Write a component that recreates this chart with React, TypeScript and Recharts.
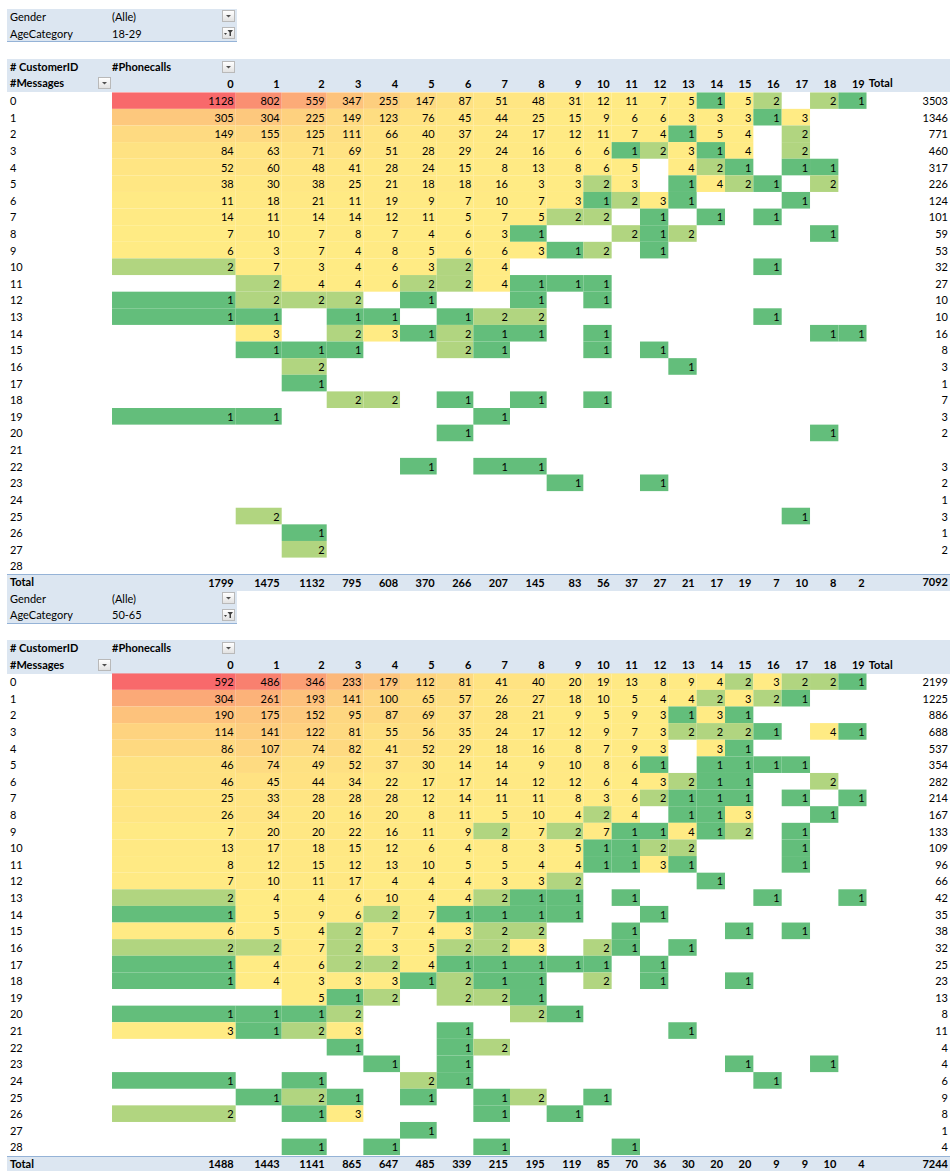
import React from "react";
import { ScatterChart, Scatter, XAxis, YAxis } from "recharts";

type Count = number | null;
const _ = null;

const phonecalls = [0, 1, 2, 3, 4, 5, 6, 7, 8, 9, 10, 11, 12, 13, 14, 15, 16, 17, 18, 19];
const messages = [0, 1, 2, 3, 4, 5, 6, 7, 8, 9, 10, 11, 12, 13, 14, 15, 16, 17, 18, 19, 20, 21, 22, 23, 24, 25, 26, 27, 28];

// AgeCategory 18-29: customers per #Messages (rows) x #Phonecalls (columns)
const youngCounts: Count[][] = [
  [1128, 802, 559, 347, 255, 147, 87, 51, 48, 31, 12, 11, 7, 5, 1, 5, 2, _, 2, 1],
  [305, 304, 225, 149, 123, 76, 45, 44, 25, 15, 9, 6, 6, 3, 3, 3, 1, 3, _, _],
  [149, 155, 125, 111, 66, 40, 37, 24, 17, 12, 11, 7, 4, 1, 5, 4, _, 2, _, _],
  [84, 63, 71, 69, 51, 28, 29, 24, 16, 6, 6, 1, 2, 3, 1, 4, _, 2, _, _],
  [52, 60, 48, 41, 28, 24, 15, 8, 13, 8, 6, 5, _, 4, 2, 1, _, 1, 1, _],
  [38, 30, 38, 25, 21, 18, 18, 16, 3, 3, 2, 3, _, 1, 4, 2, 1, _, 2, _],
  [11, 18, 21, 11, 19, 9, 7, 10, 7, 3, 1, 2, 3, 1, _, _, _, 1, _, _],
  [14, 11, 14, 14, 12, 11, 5, 7, 5, 2, 2, _, 1, _, 1, _, 1, _, _, _],
  [7, 10, 7, 8, 7, 4, 6, 3, 1, _, _, 2, 1, 2, _, _, _, _, 1, _],
  [6, 3, 7, 4, 8, 5, 6, 6, 3, 1, 2, _, 1, _, _, _, _, _, _, _],
  [2, 7, 3, 4, 6, 3, 2, 4, _, _, _, _, _, _, _, _, 1, _, _, _],
  [_, 2, 4, 4, 6, 2, 2, 4, 1, 1, 1, _, _, _, _, _, _, _, _, _],
  [1, 2, 2, 2, _, 1, _, _, 1, _, 1, _, _, _, _, _, _, _, _, _],
  [1, 1, _, 1, 1, _, 1, 2, 2, _, _, _, _, _, _, _, 1, _, _, _],
  [_, 3, _, 2, 3, 1, 2, 1, 1, _, 1, _, _, _, _, _, _, _, 1, 1],
  [_, 1, 1, 1, _, _, 2, 1, _, _, 1, _, 1, _, _, _, _, _, _, _],
  [_, _, 2, _, _, _, _, _, _, _, _, _, _, 1, _, _, _, _, _, _],
  [_, _, 1, _, _, _, _, _, _, _, _, _, _, _, _, _, _, _, _, _],
  [_, _, _, 2, 2, _, 1, _, 1, _, 1, _, _, _, _, _, _, _, _, _],
  [1, 1, _, _, _, _, _, 1, _, _, _, _, _, _, _, _, _, _, _, _],
  [_, _, _, _, _, _, 1, _, _, _, _, _, _, _, _, _, _, _, 1, _],
  [_, _, _, _, _, _, _, _, _, _, _, _, _, _, _, _, _, _, _, _],
  [_, _, _, _, _, 1, _, 1, 1, _, _, _, _, _, _, _, _, _, _, _],
  [_, _, _, _, _, _, _, _, _, 1, _, _, 1, _, _, _, _, _, _, _],
  [_, _, _, _, _, _, _, _, _, _, _, _, _, _, _, _, _, _, _, _],
  [_, 2, _, _, _, _, _, _, _, _, _, _, _, _, _, _, _, 1, _, _],
  [_, _, 1, _, _, _, _, _, _, _, _, _, _, _, _, _, _, _, _, _],
  [_, _, 2, _, _, _, _, _, _, _, _, _, _, _, _, _, _, _, _, _],
  [_, _, _, _, _, _, _, _, _, _, _, _, _, _, _, _, _, _, _, _],
];
const youngRowTotals: Count[] = [3503, 1346, 771, 460, 317, 226, 124, 101, 59, 53, 32, 27, 10, 10, 16, 8, 3, 1, 7, 3, 2, _, 3, 2, 1, 3, 1, 2, _];
const youngColTotals = [1799, 1475, 1132, 795, 608, 370, 266, 207, 145, 83, 56, 37, 27, 21, 17, 19, 7, 10, 8, 2];
const youngGrandTotal = 7092;

// AgeCategory 50-65
const olderCounts: Count[][] = [
  [592, 486, 346, 233, 179, 112, 81, 41, 40, 20, 19, 13, 8, 9, 4, 2, 3, 2, 2, 1],
  [304, 261, 193, 141, 100, 65, 57, 26, 27, 18, 10, 5, 4, 4, 2, 3, 2, 1, _, _],
  [190, 175, 152, 95, 87, 69, 37, 28, 21, 9, 5, 9, 3, 1, 3, 1, _, _, _, _],
  [114, 141, 122, 81, 55, 56, 35, 24, 17, 12, 9, 7, 3, 2, 2, 2, 1, _, 4, 1],
  [86, 107, 74, 82, 41, 52, 29, 18, 16, 8, 7, 9, 3, _, 3, 1, _, _, _, _],
  [46, 74, 49, 52, 37, 30, 14, 14, 9, 10, 8, 6, 1, _, 1, 1, 1, 1, _, _],
  [46, 45, 44, 34, 22, 17, 17, 14, 12, 12, 6, 4, 3, 2, 1, 1, _, _, 2, _],
  [25, 33, 28, 28, 28, 12, 14, 11, 11, 8, 3, 6, 2, 1, 1, 1, _, 1, _, 1],
  [26, 34, 20, 16, 20, 8, 11, 5, 10, 4, 2, 4, _, 1, 1, 3, _, _, 1, _],
  [7, 20, 20, 22, 16, 11, 9, 2, 7, 2, 7, 1, 1, 4, 1, 2, _, 1, _, _],
  [13, 17, 18, 15, 12, 6, 4, 8, 3, 5, 1, 1, 2, 2, _, _, _, 1, _, _],
  [8, 12, 15, 12, 13, 10, 5, 5, 4, 4, 1, 1, 3, 1, _, _, _, 1, _, _],
  [7, 10, 11, 17, 4, 4, 4, 3, 3, 2, _, _, _, _, 1, _, _, _, _, _],
  [2, 4, 4, 6, 10, 4, 4, 2, 1, 1, _, 1, _, _, _, _, 1, _, _, 1],
  [1, 5, 9, 6, 2, 7, 1, 1, 1, 1, _, _, 1, _, _, _, _, _, _, _],
  [6, 5, 4, 2, 7, 4, 3, 2, 2, _, _, 1, _, _, _, 1, _, 1, _, _],
  [2, 2, 7, 2, 3, 5, 2, 2, 3, _, 2, 1, _, 1, _, _, _, _, _, _],
  [1, 4, 6, 2, 2, 4, 1, 1, 1, 1, 1, _, 1, _, _, _, _, _, _, _],
  [1, 4, 3, 3, 3, 1, 2, 1, 1, _, 2, _, 1, _, _, 1, _, _, _, _],
  [_, _, 5, 1, 2, _, 2, 2, 1, _, _, _, _, _, _, _, _, _, _, _],
  [1, 1, 1, 2, _, _, _, _, 2, 1, _, _, _, _, _, _, _, _, _, _],
  [3, 1, 2, 3, _, _, 1, _, _, _, _, _, _, 1, _, _, _, _, _, _],
  [_, _, _, 1, _, _, 1, 2, _, _, _, _, _, _, _, _, _, _, _, _],
  [_, _, _, _, 1, _, 1, _, _, _, _, _, _, _, _, 1, _, _, 1, _],
  [1, _, 1, _, _, 2, 1, _, _, _, _, _, _, _, _, _, 1, _, _, _],
  [_, 1, 2, 1, _, 1, _, 1, 2, _, 1, _, _, _, _, _, _, _, _, _],
  [2, _, 1, 3, _, _, _, 1, _, 1, _, _, _, _, _, _, _, _, _, _],
  [_, _, _, _, _, 1, _, _, _, _, _, _, _, _, _, _, _, _, _, _],
  [_, _, 1, _, 1, _, _, 1, _, _, _, 1, _, _, _, _, _, _, _, _],
];
const olderRowTotals: Count[] = [2199, 1225, 886, 688, 537, 354, 282, 214, 167, 133, 109, 96, 66, 42, 35, 38, 32, 25, 23, 13, 8, 11, 4, 4, 6, 9, 8, 1, 4];
const olderColTotals = [1488, 1443, 1141, 865, 647, 485, 339, 215, 195, 119, 85, 70, 36, 30, 20, 20, 9, 9, 10, 4];
const olderGrandTotal = 7244;

// sheet geometry
const ROW_H = 16.62;
const LABEL_W = 105;
const TOTAL_W = 83.3;
const colWidths = [
  123.7, 46, 45,
  36.66, 36.66, 36.66, 36.66, 36.66, 36.66, 36.66,
  28.34, 28.34, 28.34, 28.34, 28.34, 28.34, 28.34, 28.34, 28.34, 28.34,
];
const PLOT_W = colWidths.reduce((a, b) => a + b, 0);
const CHART_W = LABEL_W + PLOT_W + TOTAL_W;
const CHART_H = 32 * ROW_H;
const colCenters = colWidths.map(
  (w, i) => colWidths.slice(0, i).reduce((a, b) => a + b, 0) + w / 2
);

const HEADER_BG = "#dce6f1";
const RULE = "#95b3d7";
const FONT = "Lato, 'Open Sans', sans-serif";
const FONT_SIZE = 11;

// 3-colour scale: lowest green, midpoint yellow, highest red
const LOW = [99, 190, 123];
const MID = [255, 235, 132];
const HIGH = [248, 105, 107];
const MID_VALUE = 3;

function mix(a: number[], b: number[], t: number) {
  return `rgb(${a.map((v, i) => Math.round(v + (b[i] - v) * t)).join(",")})`;
}

function colorScale(values: number[], mid: number) {
  const min = Math.min(...values);
  const max = Math.max(...values);
  return (v: number) =>
    v <= mid
      ? mix(LOW, MID, mid === min ? 1 : (v - min) / (mid - min))
      : mix(MID, HIGH, (v - mid) / (max - mid));
}

function Txt({ left, top, bold, children }: { left: number; top: number; bold?: boolean; children: React.ReactNode }) {
  return (
    <div
      style={{
        position: "absolute",
        left,
        top,
        height: ROW_H,
        lineHeight: `${ROW_H}px`,
        fontSize: FONT_SIZE,
        fontWeight: bold ? 700 : 400,
        whiteSpace: "nowrap",
        color: "#000",
      }}
    >
      {children}
    </div>
  );
}

function DropButton({ left, top, filtered }: { left: number; top: number; filtered?: boolean }) {
  return (
    <div
      style={{
        position: "absolute",
        left,
        top,
        width: 13,
        height: 12,
        boxSizing: "border-box",
        border: "1px solid #b9b9b9",
        background: "linear-gradient(#ffffff, #e2e2e2)",
      }}
    >
      <svg width={11} height={10} style={{ display: "block" }}>
        {filtered ? (
          <g fill="#404040">
            <path d="M1 5 L4 5 L2.5 7 Z" />
            <path d="M4.5 2 L10 2 L8 4.5 L8 8 L6.5 8 L6.5 4.5 Z" />
          </g>
        ) : (
          <path d="M3 4 L8 4 L5.5 6.5 Z" fill="#505050" />
        )}
      </svg>
    </div>
  );
}

interface PivotProps {
  top: number;
  age: string;
  counts: Count[][];
  rowTotals: Count[];
  colTotals: number[];
  grandTotal: number;
}

function Pivot({ top, age, counts, rowTotals, colTotals, grandTotal }: PivotProps) {
  const values = counts.flat().filter((v): v is number => v != null);
  const color = colorScale(values, MID_VALUE);
  const cells = counts.flatMap((row, r) =>
    row.flatMap((v, c) => (v == null ? [] : [{ x: colCenters[c], y: r, col: c, value: v }]))
  );

  const renderCell = (props: any) => {
    const { cx, cy, payload } = props;
    const w = colWidths[payload.col];
    return (
      <g>
        <rect x={cx - w / 2} y={cy - ROW_H / 2} width={w} height={ROW_H} fill={color(payload.value)} />
        <text
          x={cx + w / 2 - 2}
          y={cy}
          textAnchor="end"
          dominantBaseline="central"
          fontSize={FONT_SIZE}
          fill="#000"
        >
          {payload.value}
        </text>
      </g>
    );
  };

  const headTick = (props: any) => (
    <text
      x={props.x + colWidths[props.index] / 2 - 2}
      y={1.5 * ROW_H}
      textAnchor="end"
      dominantBaseline="central"
      fontSize={FONT_SIZE}
      fontWeight={700}
      fill="#000"
    >
      {phonecalls[props.index]}
    </text>
  );

  const footTick = (props: any) => (
    <text
      x={props.x + colWidths[props.index] / 2 - 2}
      y={31.5 * ROW_H}
      textAnchor="end"
      dominantBaseline="central"
      fontSize={FONT_SIZE}
      fontWeight={700}
      fill="#000"
    >
      {colTotals[props.index]}
    </text>
  );

  const rowTick = (props: any) => (
    <text x={3} y={props.y} dominantBaseline="central" fontSize={FONT_SIZE} fill="#000">
      {messages[props.index]}
    </text>
  );

  const totalTick = (props: any) => (
    <text
      x={CHART_W - 2}
      y={props.y}
      textAnchor="end"
      dominantBaseline="central"
      fontSize={FONT_SIZE}
      fill="#000"
    >
      {rowTotals[props.index] ?? ""}
    </text>
  );

  return (
    <div style={{ position: "absolute", left: 7, top, width: CHART_W, height: 35 * ROW_H }}>
      {/* report filters */}
      <div
        style={{
          position: "absolute",
          left: 0,
          top: 0,
          width: 230,
          height: 2 * ROW_H,
          boxSizing: "border-box",
          background: HEADER_BG,
          borderBottom: `1.5px solid ${RULE}`,
        }}
      />
      {/* column header and grand total bands */}
      <div style={{ position: "absolute", left: 0, top: 3 * ROW_H, width: CHART_W, height: 2 * ROW_H, background: HEADER_BG }} />
      <div
        style={{
          position: "absolute",
          left: 0,
          top: 34 * ROW_H,
          width: CHART_W,
          height: ROW_H,
          boxSizing: "border-box",
          background: HEADER_BG,
          borderTop: `1.5px solid ${RULE}`,
        }}
      />

      <div style={{ position: "absolute", left: 0, top: 3 * ROW_H }}>
        <ScatterChart width={CHART_W} height={CHART_H} margin={{ top: 0, right: 0, bottom: 0, left: 0 }}>
          <XAxis
            xAxisId="head"
            orientation="top"
            type="number"
            dataKey="x"
            domain={[0, PLOT_W]}
            ticks={colCenters}
            interval={0}
            height={2 * ROW_H}
            axisLine={false}
            tickLine={false}
            tick={headTick}
            allowDataOverflow
          />
          <XAxis
            xAxisId="foot"
            orientation="bottom"
            type="number"
            dataKey="x"
            domain={[0, PLOT_W]}
            ticks={colCenters}
            interval={0}
            height={ROW_H}
            axisLine={false}
            tickLine={false}
            tick={footTick}
            allowDataOverflow
          />
          <YAxis
            yAxisId="rows"
            orientation="left"
            type="number"
            dataKey="y"
            domain={[-0.5, 28.5]}
            ticks={messages}
            interval={0}
            reversed
            width={LABEL_W}
            axisLine={false}
            tickLine={false}
            tick={rowTick}
            allowDataOverflow
          />
          <YAxis
            yAxisId="totals"
            orientation="right"
            type="number"
            dataKey="y"
            domain={[-0.5, 28.5]}
            ticks={messages}
            interval={0}
            reversed
            width={TOTAL_W}
            axisLine={false}
            tickLine={false}
            tick={totalTick}
            allowDataOverflow
          />
          <Scatter
            data={cells}
            xAxisId="head"
            yAxisId="rows"
            shape={renderCell}
            isAnimationActive={false}
          />
        </ScatterChart>
      </div>

      <Txt left={3} top={0}>Gender</Txt>
      <Txt left={LABEL_W} top={0}>(Alle)</Txt>
      <DropButton left={215} top={1.5} />
      <Txt left={3} top={ROW_H}>AgeCategory</Txt>
      <Txt left={LABEL_W} top={ROW_H}>{age}</Txt>
      <DropButton left={215} top={ROW_H + 1.5} filtered />

      <Txt left={3} top={3 * ROW_H} bold># CustomerID</Txt>
      <Txt left={LABEL_W} top={3 * ROW_H} bold>#Phonecalls</Txt>
      <DropButton left={215} top={3 * ROW_H + 2} />
      <Txt left={3} top={4 * ROW_H} bold>#Messages</Txt>
      <DropButton left={91} top={4 * ROW_H + 2} />
      <Txt left={LABEL_W + PLOT_W + 2} top={4 * ROW_H} bold>Total</Txt>

      <Txt left={3} top={34 * ROW_H} bold>Total</Txt>
      <div
        style={{
          position: "absolute",
          right: 2,
          top: 34 * ROW_H,
          lineHeight: `${ROW_H}px`,
          fontSize: FONT_SIZE,
          fontWeight: 700,
        }}
      >
        {grandTotal}
      </div>
    </div>
  );
}

export default function App() {
  return (
    <div
      style={{
        position: "relative",
        width: 950,
        height: 1171,
        overflow: "hidden",
        background: "#fff",
        fontFamily: FONT,
      }}
    >
      <style>{"body{margin:0}"}</style>
      <Pivot
        top={8.9}
        age="18-29"
        counts={youngCounts}
        rowTotals={youngRowTotals}
        colTotals={youngColTotals}
        grandTotal={youngGrandTotal}
      />
      <Pivot
        top={8.9 + 35 * ROW_H}
        age="50-65"
        counts={olderCounts}
        rowTotals={olderRowTotals}
        colTotals={olderColTotals}
        grandTotal={olderGrandTotal}
      />
    </div>
  );
}
